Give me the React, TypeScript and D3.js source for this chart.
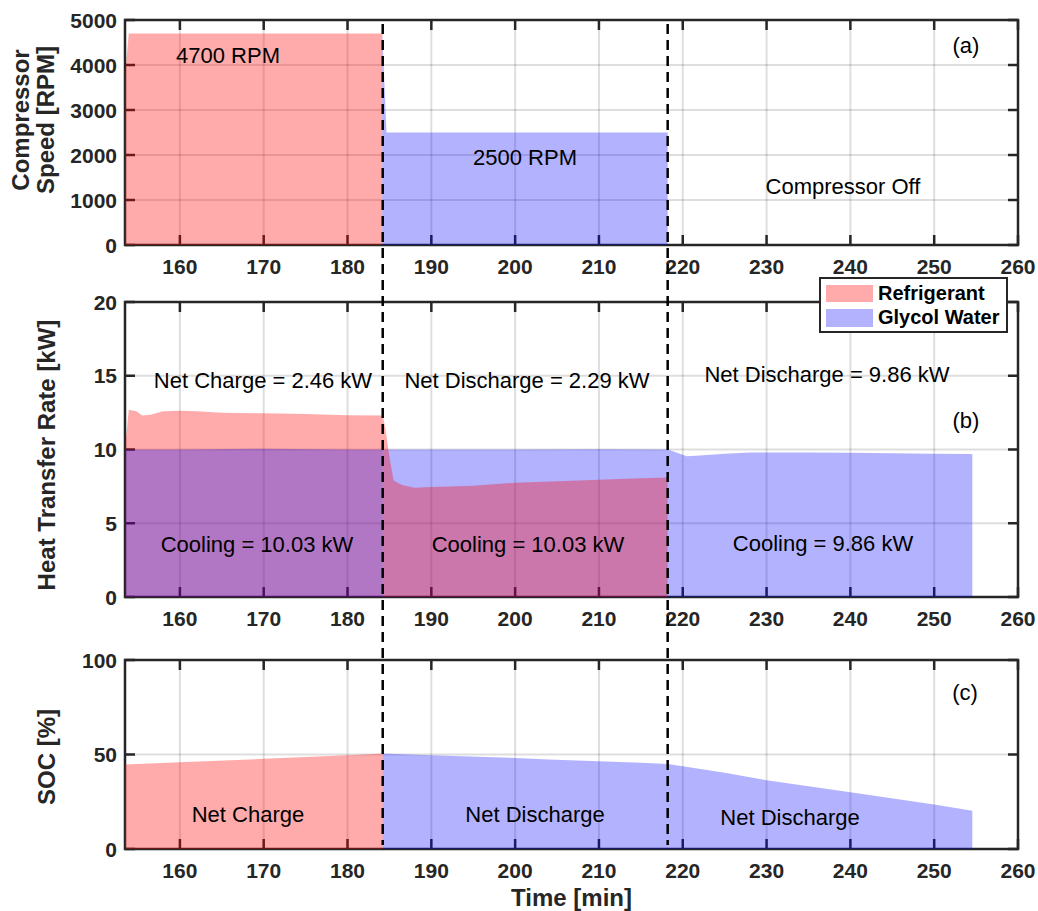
import React from "react";
import * as d3 from "d3";

// ---------- data ----------
const xTicks = [160, 170, 180, 190, 200, 210, 220, 230, 240, 250, 260];
const speedTicks = [0, 1000, 2000, 3000, 4000, 5000];
const heatTicks = [0, 5, 10, 15, 20];
const socTicks = [0, 50, 100];

const switchTimes = [184.2, 218.2];

// (a) compressor speed
const speedRefT = [153.45, 153.9, 184.15];
const speedRefV = [3730, 4700, 4700];
const speedGlyT = [184.15, 184.65, 218.2];
const speedGlyV = [4700, 2500, 2500];

// (b) heat transfer rate
const heatRefT1 = [153.45, 153.9, 154.8, 155.5, 156.5, 158, 160, 162, 165, 170, 175, 180, 184.2];
const heatRefV1 = [10.0, 12.7, 12.6, 12.3, 12.35, 12.6, 12.62, 12.6, 12.5, 12.45, 12.4, 12.33, 12.3];
const heatRefT2 = [184.2, 184.5, 185, 185.5, 186.5, 188, 190, 195, 200, 205, 210, 215, 218.2];
const heatRefV2 = [12.3, 11.5, 9.5, 7.9, 7.6, 7.4, 7.45, 7.55, 7.75, 7.85, 7.95, 8.05, 8.1];
const heatGlyT = [153.45, 160, 170, 180, 184.2, 190, 200, 210, 218.2, 219, 220.5, 222, 225, 228, 235, 240, 245, 250, 254.55];
const heatGlyV = [10.0, 10.0, 10.05, 10.0, 10.0, 10.0, 10.0, 10.02, 10.0, 9.85, 9.55, 9.6, 9.72, 9.8, 9.8, 9.78, 9.75, 9.72, 9.7];

// (c) state of charge
const socRefT = [153.45, 160, 170, 180, 184.2];
const socRefV = [44.7, 45.9, 47.7, 49.6, 50.5];
const socGlyT = [184.2, 190, 200, 204, 210, 215, 218.2, 220, 225, 230, 240, 250, 254.55];
const socGlyV = [50.5, 49.6, 48.2, 47.3, 46.4, 45.6, 45.0, 43.8, 40.3, 36.4, 30.0, 23.5, 20.3];

const legendLabels = ["Refrigerant", "Glycol Water"];

// ---------- style ----------
const RED = "#ff0000";
const RED_OP = 0.33;
const BLUE = "#0000ff";
const BLUE_OP = 0.3;
const AX = "#262626";
const FONT = "'Liberation Sans', Arial, Helvetica, sans-serif";

const L = 125, R = 1018;
const x = d3.scaleLinear().domain([153.45, 260]).range([L, R]);

type Panel = { top: number; bottom: number; max: number; ticks: number[] };
const pA: Panel = { top: 20, bottom: 245, max: 5000, ticks: speedTicks };
const pB: Panel = { top: 302, bottom: 597, max: 20, ticks: heatTicks };
const pC: Panel = { top: 660, bottom: 849, max: 100, ticks: socTicks };

function yScale(p: Panel) {
  return d3.scaleLinear().domain([0, p.max]).range([p.bottom, p.top]);
}

function areaPath(p: Panel, ts: number[], vs: number[]) {
  const y = yScale(p);
  const gen = d3
    .area<number>()
    .x((_, i) => x(ts[i]))
    .y0(y(0))
    .y1((v) => y(v));
  return gen(vs) || "";
}

function Frame({ p }: { p: Panel }) {
  const y = yScale(p);
  const tl = 10;
  return (
    <g>
      {xTicks.map((t) => (
        <line key={"gx" + t} x1={x(t)} x2={x(t)} y1={p.top} y2={p.bottom} stroke="#000" strokeOpacity={0.13} strokeWidth={2} />
      ))}
      {p.ticks.map((t) => (
        <line key={"gy" + t} x1={L} x2={R} y1={y(t)} y2={y(t)} stroke="#000" strokeOpacity={0.13} strokeWidth={2} />
      ))}
      {xTicks.map((t) => (
        <g key={"tx" + t}>
          <line x1={x(t)} x2={x(t)} y1={p.bottom} y2={p.bottom - tl} stroke={AX} strokeWidth={2.5} />
          <line x1={x(t)} x2={x(t)} y1={p.top} y2={p.top + tl} stroke={AX} strokeWidth={2.5} />
          <text x={x(t)} y={p.bottom + 29} textAnchor="middle" fontFamily={FONT} fontWeight="bold" fontSize={21} fill={AX}>
            {t}
          </text>
        </g>
      ))}
      {p.ticks.map((t) => (
        <g key={"ty" + t}>
          <line x1={L} x2={L + tl} y1={y(t)} y2={y(t)} stroke={AX} strokeWidth={2.5} />
          <line x1={R} x2={R - tl} y1={y(t)} y2={y(t)} stroke={AX} strokeWidth={2.5} />
          <text x={117} y={y(t) + 7.5} textAnchor="end" fontFamily={FONT} fontWeight="bold" fontSize={21} fill={AX}>
            {t}
          </text>
        </g>
      ))}
      <rect x={L} y={p.top} width={R - L} height={p.bottom - p.top} fill="none" stroke={AX} strokeWidth={2.5} />
    </g>
  );
}

function Ann({ x: ax, y, children, anchor = "middle" }: { x: number; y: number; children: React.ReactNode; anchor?: string }) {
  return (
    <text x={ax} y={y} textAnchor={anchor as any} fontFamily={FONT} fontSize={22} fill="#000">
      {children}
    </text>
  );
}

function YLabel({ x: lx, y, children }: { x: number; y: number; children: React.ReactNode }) {
  return (
    <text transform={`translate(${lx},${y}) rotate(-90)`} textAnchor="middle" fontFamily={FONT} fontWeight="bold" fontSize={24} fill={AX}>
      {children}
    </text>
  );
}

export default function App() {
  return (
    <svg width={1038} height={911} style={{ position: "absolute", left: 0, top: 0, background: "#fff" }}>
      <rect x={0} y={0} width={1038} height={911} fill="#fff" />
      {/* Panel a */}
      <Frame p={pA} />
      <path d={areaPath(pA, speedRefT, speedRefV)} fill={RED} fillOpacity={RED_OP} />
      <path d={areaPath(pA, speedGlyT, speedGlyV)} fill={BLUE} fillOpacity={BLUE_OP} />
      <Ann x={228} y={63}>4700 RPM</Ann>
      <Ann x={525} y={165}>2500 RPM</Ann>
      <Ann x={843} y={194}>Compressor Off</Ann>
      <Ann x={966} y={53}>(a)</Ann>

      {/* Panel b */}
      <Frame p={pB} />
      <path d={areaPath(pB, heatRefT1, heatRefV1)} fill={RED} fillOpacity={RED_OP} />
      <path d={areaPath(pB, heatGlyT, heatGlyV)} fill={BLUE} fillOpacity={BLUE_OP} />
      <path d={areaPath(pB, heatRefT2, heatRefV2)} fill={RED} fillOpacity={RED_OP} />
      <Ann x={263} y={388}>Net Charge = 2.46 kW</Ann>
      <Ann x={527} y={388}>Net Discharge = 2.29 kW</Ann>
      <Ann x={827} y={382}>Net Discharge = 9.86 kW</Ann>
      <Ann x={966} y={428}>(b)</Ann>
      <Ann x={257} y={552}>Cooling = 10.03 kW</Ann>
      <Ann x={528} y={552}>Cooling = 10.03 kW</Ann>
      <Ann x={823} y={551}>Cooling = 9.86 kW</Ann>

      {/* Panel c */}
      <Frame p={pC} />
      <path d={areaPath(pC, socRefT, socRefV)} fill={RED} fillOpacity={RED_OP} />
      <path d={areaPath(pC, socGlyT, socGlyV)} fill={BLUE} fillOpacity={BLUE_OP} />
      <Ann x={248} y={822}>Net Charge</Ann>
      <Ann x={535} y={822}>Net Discharge</Ann>
      <Ann x={790} y={825}>Net Discharge</Ann>
      <Ann x={965} y={700}>(c)</Ann>

      {/* switch lines */}
      {switchTimes.map((t) => (
        <line key={"sw" + t} x1={x(t)} x2={x(t)} y1={24} y2={845} stroke="#000" strokeWidth={2.5} strokeDasharray="10,6" />
      ))}

      {/* legend */}
      <g>
        <rect x={820} y={278} width={187} height={54} fill="#fff" stroke={AX} strokeWidth={2} />
        <rect x={826} y={285} width={47} height={17} fill={RED} fillOpacity={RED_OP} />
        <rect x={826} y={309} width={47} height={18} fill={BLUE} fillOpacity={BLUE_OP} />
        <text x={878} y={300} fontFamily={FONT} fontWeight="bold" fontSize={20} fill="#000">{legendLabels[0]}</text>
        <text x={878} y={324} fontFamily={FONT} fontWeight="bold" fontSize={20} fill="#000">{legendLabels[1]}</text>
      </g>

      {/* axis labels */}
      <YLabel x={29} y={120}>Compressor</YLabel>
      <YLabel x={54} y={120}>Speed [RPM]</YLabel>
      <YLabel x={55} y={455}>Heat Transfer Rate [kW]</YLabel>
      <YLabel x={55} y={757}>SOC [%]</YLabel>
      <text x={571.5} y={906} textAnchor="middle" fontFamily={FONT} fontWeight="bold" fontSize={24} fill={AX}>
        Time [min]
      </text>
    </svg>
  );
}
